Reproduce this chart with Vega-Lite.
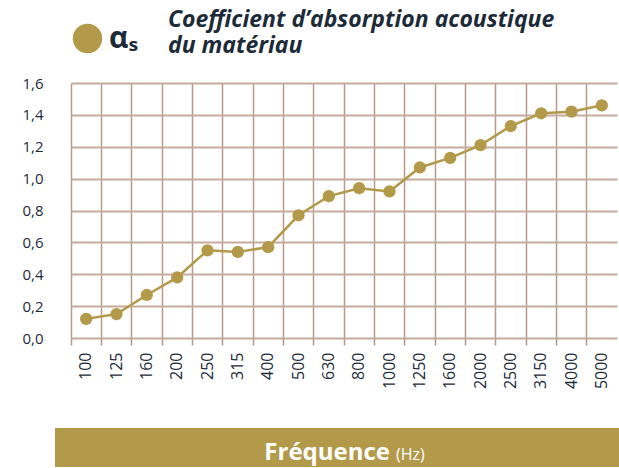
{
  "$schema": "https://vega.github.io/schema/vega-lite/v6.json",
  "background": "white",
  "padding": {"left": 21, "top": 9, "right": 0, "bottom": 0},
  "spacing": 39,
  "config": {
    "view": {"stroke": null},
    "font": "Open Sans"
  },
  "vconcat": [
    {
      "width": 562,
      "height": 255,
      "title": {
        "text": ["Coefficient d’absorption acoustique", "du matériau"],
        "anchor": "start",
        "frame": "group",
        "dx": 113,
        "offset": 18,
        "fontSize": 23,
        "font": "Open Sans",
        "fontStyle": "italic",
        "fontWeight": "bold",
        "color": "#1D2B39",
        "lineHeight": 26
      },
      "data": {
        "values": [
          {"freq": "100", "alpha": 0.12},
          {"freq": "125", "alpha": 0.15},
          {"freq": "160", "alpha": 0.27},
          {"freq": "200", "alpha": 0.38},
          {"freq": "250", "alpha": 0.55},
          {"freq": "315", "alpha": 0.54},
          {"freq": "400", "alpha": 0.57},
          {"freq": "500", "alpha": 0.77},
          {"freq": "630", "alpha": 0.89},
          {"freq": "800", "alpha": 0.94},
          {"freq": "1000", "alpha": 0.92},
          {"freq": "1250", "alpha": 1.07},
          {"freq": "1600", "alpha": 1.13},
          {"freq": "2000", "alpha": 1.21},
          {"freq": "2500", "alpha": 1.33},
          {"freq": "3150", "alpha": 1.41},
          {"freq": "4000", "alpha": 1.42},
          {"freq": "5000", "alpha": 1.46}
        ]
      },
      "encoding": {
        "x": {
          "field": "freq",
          "type": "nominal",
          "sort": null,
          "scale": {"type": "band", "range": [16, 562], "paddingInner": 0, "paddingOuter": 0},
          "axis": {
            "title": null,
            "bandPosition": 0,
            "labelAngle": -90,
            "labelFontSize": 16,
            "labelColor": "#1D2B39",
            "labelPadding": 7,
            "tickSize": 7,
            "tickWidth": 1.5,
            "tickColor": "#B8998A",
            "grid": true,
            "gridColor": "#B8998A",
            "gridWidth": 1.5,
            "gridOpacity": 1,
            "domain": false
          }
        },
        "y": {
          "field": "alpha",
          "type": "quantitative",
          "scale": {"domain": [0, 1.6], "nice": false, "zero": true},
          "axis": {
            "title": null,
            "values": [0, 0.2, 0.4, 0.6, 0.8, 1.0, 1.2, 1.4, 1.6],
            "labelExpr": "replace(format(datum.value, '.1f'), '.', ',')",
            "labelFontSize": 15,
            "labelColor": "#1D2B39",
            "labelPadding": 12,
            "ticks": false,
            "domain": false,
            "grid": true,
            "gridColor": "#C4AB9D",
            "gridWidth": 1.8,
            "gridOpacity": 1
          }
        }
      },
      "layer": [
        {
          "mark": {"type": "line", "color": "#B39A4A", "strokeWidth": 2.5}
        },
        {
          "mark": {"type": "point", "filled": true, "opacity": 1, "size": 150},
          "encoding": {
            "color": {
              "datum": "αₛ",
              "scale": {"range": ["#B39A4A"]},
              "legend": {
                "title": null,
                "orient": "none",
                "legendX": 17,
                "legendY": -60,
                "symbolType": "circle",
                "symbolSize": 870,
                "symbolOpacity": 1,
                "labelFontSize": 30,
                "labelFontWeight": "bold",
                "labelColor": "#1D2B39",
                "labelOffset": 6
              }
            }
          }
        }
      ]
    },
    {
      "width": 564,
      "height": 39,
      "view": {"fill": "#B39A4A", "stroke": null},
      "data": {"values": [{"main": "Fréquence", "unit": "(Hz)"}]},
      "layer": [
        {
          "mark": {"type": "text", "align": "right", "baseline": "alphabetic", "dx": 53, "dy": 12, "fontSize": 24, "fontWeight": "bold", "color": "white"},
          "encoding": {"text": {"field": "main"}}
        },
        {
          "mark": {"type": "text", "align": "left", "baseline": "alphabetic", "dx": 59, "dy": 12, "fontSize": 16, "color": "white"},
          "encoding": {"text": {"field": "unit"}}
        }
      ]
    }
  ]
}
